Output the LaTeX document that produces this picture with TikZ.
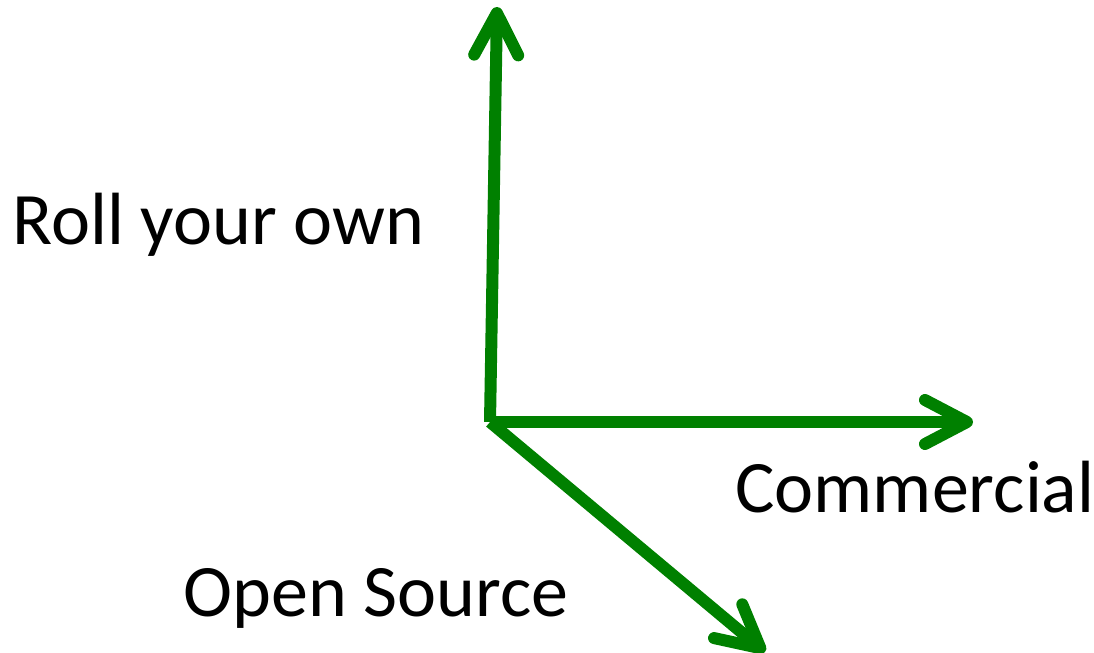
\documentclass[tikz,border=0pt]{standalone}
\usepackage{fontspec}
\setmainfont{Carlito}
\usepackage{tikz}
\usetikzlibrary{arrows.meta,positioning}

\definecolor{axisgreen}{RGB}{0,128,0}

\tikzset{
	axis/.style={draw=axisgreen, line width=6pt, -{Straight Barb[length=21pt,width=22pt,round]}},
	axislabel/.style={anchor=base west, inner sep=0pt, font=\fontsize{37}{44}\selectfont}
}

\begin{document}
\begin{tikzpicture}[x=0.5pt,y=-0.5pt]
	\useasboundingbox (0,0) rectangle (1094,653);

	\coordinate (o) at (490,422);
	\coordinate (rollend) at (497,7);
	\coordinate (commend) at (973,422);
	\coordinate (openend) at (765,652);

	\node[axislabel] (roll) at (12,244) {Roll your own};
	\node[axislabel] (comm) at (735,512) {Commercial};
	\node[axislabel] (open) at (183,616) {Open Source};

	\draw[axis] (o) -- (rollend);
	\draw[axis] (o) -- (commend);
	\draw[axis] (o) -- (openend);
\end{tikzpicture}
\end{document}
